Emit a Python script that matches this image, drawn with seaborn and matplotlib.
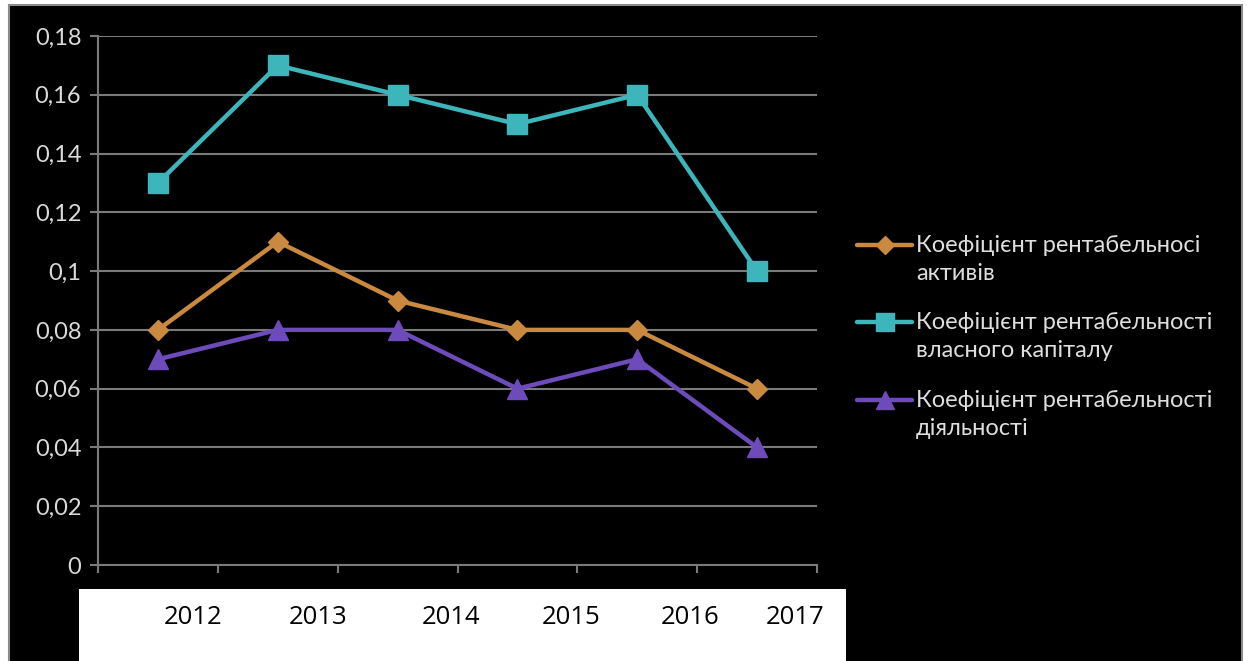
import matplotlib
matplotlib.use("Agg")
import matplotlib.pyplot as plt
import matplotlib.transforms as mtransforms
from matplotlib.lines import Line2D
from matplotlib.patches import Rectangle
import numpy as np
import pandas as pd
import seaborn as sns

# ---- data -------------------------------------------------------------
years = ["2012", "2013", "2014", "2015", "2016", "2017"]
roa = [0.08, 0.11, 0.09, 0.08, 0.08, 0.06]          # рентабельність активів
roe = [0.13, 0.17, 0.16, 0.15, 0.16, 0.10]          # рентабельність власного капіталу
ros = [0.07, 0.08, 0.08, 0.06, 0.07, 0.04]          # рентабельність діяльності
series_labels = [
    "Коефіцієнт рентабельносі\nактивів",
    "Коефіцієнт рентабельності\nвласного капіталу",
    "Коефіцієнт рентабельності\nдіяльності",
]
y_ticks = [0, 0.02, 0.04, 0.06, 0.08, 0.10, 0.12, 0.14, 0.16, 0.18]
y_tick_labels = ["0", "0,02", "0,04", "0,06", "0,08", "0,1", "0,12", "0,14", "0,16", "0,18"]

# ---- style ------------------------------------------------------------
colors = ["#C98A40", "#3CB6BA", "#6D4BBB"]
markers = ["D", "s", "^"]
marker_sizes = [10.5, 15, 14.5]

sns.set_theme(style="dark")
plt.rcParams["font.family"] = ["Lato", "DejaVu Sans"]

W, H = 1247, 661
fig = plt.figure(figsize=(W / 100, H / 100), dpi=100, facecolor="white")

def fx(px):
    return px / W

def fy(py):
    return 1 - py / H

# black chart area
fig.add_artist(Rectangle((fx(9), -0.01), fx(1242) - fx(9), fy(5) + 0.01, transform=fig.transFigure,
                         facecolor="black", edgecolor="#8a8a8a", linewidth=1.5, zorder=1))

# plot area
ax = fig.add_axes([fx(98), fy(565), fx(817) - fx(98), fy(36) - fy(565)], zorder=2)
ax.set_facecolor("black")

df = pd.DataFrame({
    "x": list(range(len(years))) * 3,
    "value": roa + roe + ros,
    "series": sum([[lab] * len(years) for lab in series_labels], []),
})

for lab, c, m, ms in zip(series_labels, colors, markers, marker_sizes):
    sub = df[df["series"] == lab]
    sns.lineplot(data=sub, x="x", y="value", ax=ax, color=c, linewidth=3.2,
                 marker=m, markersize=ms, markeredgecolor=c, markeredgewidth=1,
                 legend=False, zorder=3)

ax.set_xlim(-0.5, len(years) - 0.5)
ax.set_ylim(0, 0.18)
ax.set_yticks(y_ticks)
ax.set_yticklabels(y_tick_labels)
ax.set_xticks(np.arange(-0.5, len(years), 1.0))
ax.set_xticklabels([])
ax.set_xlabel("")
ax.set_ylabel("")
ax.grid(axis="y", color="#7a7a7a", linewidth=1.5)
ax.grid(axis="x", visible=False)
for side in ["top", "right"]:
    ax.spines[side].set_visible(False)
for side in ["left", "bottom"]:
    ax.spines[side].set_visible(True)
    ax.spines[side].set_color("#7a7a7a")
    ax.spines[side].set_linewidth(1.5)
ax.tick_params(axis="y", colors="#7a7a7a", labelcolor="#dadada", labelsize=17,
               length=6, width=1.5, direction="out", pad=6, left=True)
ax.tick_params(axis="x", colors="#7a7a7a", length=6, width=1.5, direction="out", bottom=True)

# white strip carrying the year labels
box = fig.add_axes([fx(79), 0, fx(846) - fx(79), fy(589)], zorder=3)
box.set_facecolor("white")
box.set_xticks([])
box.set_yticks([])
for s in box.spines.values():
    s.set_visible(False)
year_pos = [0.29, 1.34, 2.45, 3.45, 4.44, 5.32]
trans = mtransforms.blended_transform_factory(ax.transData, fig.transFigure)
for xp, yr in zip(year_pos, years):
    fig.text(xp, fy(617), yr, transform=trans, ha="center", va="center",
             fontsize=18.5, color="black",
             family=["Open Sans", "DejaVu Sans"], zorder=5)

# legend
entry_y = [245, 322, 400]
for lab, c, m, ms, ey in zip(series_labels, colors, markers, marker_sizes, entry_y):
    fig.add_artist(Line2D([fx(857), fx(912)], [fy(ey), fy(ey)], transform=fig.transFigure,
                          color=c, linewidth=3.2, zorder=4))
    fig.add_artist(Line2D([fx(884.5)], [fy(ey)], transform=fig.transFigure, color=c,
                          marker=m, markersize=ms * 0.85, markeredgecolor=c, zorder=4))
    first, second = lab.split("\n")
    fig.text(fx(916), fy(ey + 7), first, color="#dedede", fontsize=17, va="baseline",
             ha="left", zorder=4)
    fig.text(fx(916), fy(ey + 35), second, color="#dedede", fontsize=17, va="baseline",
             ha="left", zorder=4)

fig.savefig("out.png", dpi=100, facecolor="white")
